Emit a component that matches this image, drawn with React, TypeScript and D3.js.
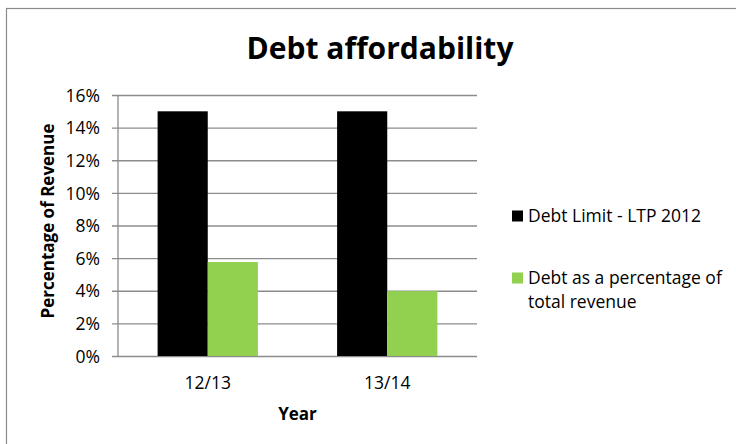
import * as d3 from 'd3';
import { useEffect, useRef } from 'react';

const years = ['12/13', '13/14'];
const seriesNames = ['Debt Limit - LTP 2012', 'Debt as a percentage of total revenue'];
const debtLimit = [15, 15];
const debtPct = [5.76, 3.98];
const yTicks = [0, 2, 4, 6, 8, 10, 12, 14, 16];
const colors = ['#000000', '#92D050'];

const W = 736;
const H = 444;
const plot = { left: 118, right: 477, top: 95, bottom: 356 };
const font = '"Open Sans", sans-serif';

export default function App() {
  const svgRef = useRef<SVGSVGElement>(null);

  useEffect(() => {
    const svg = d3.select(svgRef.current);
    svg.selectAll('*').remove();

    svg.append('rect').attr('width', W).attr('height', H).attr('fill', '#fff');
    // chart frame (right and bottom edges fall outside the picture)
    svg
      .append('rect')
      .attr('x', 6.5)
      .attr('y', 8.5)
      .attr('width', W + 10)
      .attr('height', H + 10)
      .attr('fill', 'none')
      .attr('stroke', '#8a8a8a')
      .attr('stroke-width', 1.2);

    const x0 = d3.scaleBand().domain(years).range([plot.left, plot.right]).paddingInner(0).paddingOuter(0);
    const x1 = d3
      .scaleBand()
      .domain(['0', '1'])
      .range([0, x0.bandwidth()])
      .paddingInner(0)
      .paddingOuter(0.79);
    const y = d3.scaleLinear().domain([0, 16]).range([plot.bottom, plot.top]);

    // gridlines + y axis
    const yAxis = d3
      .axisLeft(y)
      .tickValues(yTicks)
      .tickSize(-(plot.right - plot.left) - 6)
      .tickFormat((d) => `${d}%`);
    const gy = svg.append('g').attr('transform', `translate(${plot.left - 6},0)`).call(yAxis);
    gy.select('.domain').remove();
    gy.selectAll('.tick line').attr('stroke', '#8c8c8c').attr('stroke-width', 1.3);
    gy.selectAll('.tick text')
      .attr('font-family', font)
      .attr('font-size', 17.5)
      .attr('fill', '#000')
      .attr('x', -12)
      .attr('dy', '0.35em');

    svg
      .append('line')
      .attr('x1', plot.left)
      .attr('x2', plot.left)
      .attr('y1', plot.top)
      .attr('y2', plot.bottom)
      .attr('stroke', '#8c8c8c')
      .attr('stroke-width', 1.3);

    const series = [debtLimit, debtPct];
    const groups = svg
      .append('g')
      .selectAll('g')
      .data(years)
      .join('g')
      .attr('transform', (d) => `translate(${x0(d)},0)`);
    groups
      .selectAll('rect')
      .data((_, i) => series.map((s, k) => ({ k, v: s[i] })))
      .join('rect')
      .attr('x', (d) => x1(String(d.k))!)
      .attr('width', x1.bandwidth())
      .attr('y', (d) => y(d.v))
      .attr('height', (d) => y(0) - y(d.v))
      .attr('fill', (d) => colors[d.k]);

    // x labels
    const xAxis = d3.axisBottom(x0).tickSize(0).tickPadding(0);
    const gx = svg.append('g').attr('transform', `translate(0,${plot.bottom})`).call(xAxis);
    gx.select('.domain').remove();
    gx.selectAll('.tick text')
      .attr('font-family', font)
      .attr('font-size', 17.5)
      .attr('fill', '#000')
      .attr('y', 27)
      .attr('dy', '0.35em');

    svg
      .append('text')
      .attr('x', (plot.left + plot.right) / 2)
      .attr('y', 414)
      .attr('dy', '0.35em')
      .attr('text-anchor', 'middle')
      .attr('font-family', font)
      .attr('font-weight', 'bold')
      .attr('font-size', 17)
      .text('Year');

    svg
      .append('text')
      .attr('transform', `translate(48,221) rotate(-90)`)
      .attr('dy', '0.35em')
      .attr('text-anchor', 'middle')
      .attr('font-family', font)
      .attr('font-weight', 'bold')
      .attr('font-size', 17)
      .text('Percentage of Revenue');

    svg
      .append('text')
      .attr('x', 380)
      .attr('y', 48)
      .attr('dy', '0.35em')
      .attr('text-anchor', 'middle')
      .attr('font-family', font)
      .attr('font-weight', 'bold')
      .attr('font-size', 30)
      .text('Debt affordability');

    // legend
    const legendRows = [
      { lines: [seriesNames[0]], y: 216 },
      { lines: ['Debt as a percentage of', 'total revenue'], y: 278 },
    ];
    const lg = svg.append('g');
    legendRows.forEach((row, i) => {
      lg.append('rect')
        .attr('x', 512)
        .attr('y', row.y - 5.5)
        .attr('width', 11)
        .attr('height', 11)
        .attr('fill', colors[i]);
      const t = lg
        .append('text')
        .attr('x', 528)
        .attr('y', row.y)
        .attr('font-family', font)
        .attr('font-size', 17.5);
      row.lines.forEach((l, j) => {
        t.append('tspan').attr('x', 528).attr('dy', j === 0 ? '0.35em' : 24).text(l);
      });
    });
  }, []);

  return (
    <svg
      ref={svgRef}
      width={W}
      height={H}
      style={{ position: 'absolute', left: 0, top: 0 }}
    />
  );
}
